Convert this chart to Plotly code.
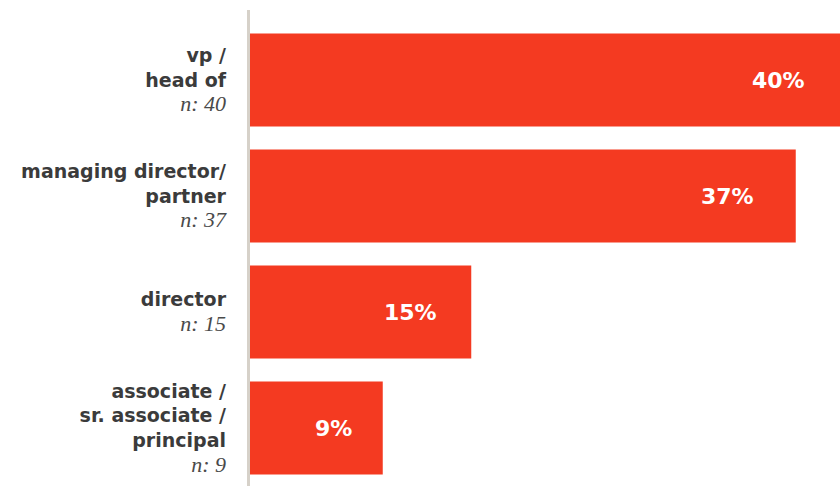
import plotly.graph_objects as go

# Seniority breakdown of respondents
roles = ["vp /<br>head of", "managing director/<br>partner", "director",
         "associate /<br>sr. associate /<br>principal"]
counts = [40, 37, 15, 9]
shares = [40, 37, 15, 9]
share_labels = [f"{v}%" for v in shares]

BAR_RED = "#F43A21"
LABEL_GREY = "#3b3b3b"
SANS = "DejaVu Sans"
SERIF = "Liberation Serif"

tick_text = [
    f"<b>{r}</b><br><span style='font-family:{SERIF};font-style:italic;"
    f"font-weight:normal;font-size:22px;color:#4a4a4a'>n: {n}</span>"
    for r, n in zip(roles, counts)
]
cats = [f"c{i}" for i in range(len(roles))]

fig = go.Figure(
    go.Bar(
        x=shares,
        y=cats,
        orientation="h",
        marker=dict(color=BAR_RED, line=dict(width=0)),
        hoverinfo="skip",
    )
)

# value labels sit inside each bar, a little in from its end
label_shift = [-62, -68, -61, -49]
for c, v, t, dx in zip(cats, shares, share_labels, label_shift):
    fig.add_annotation(
        x=v, y=c, text=f"<b>{t}</b>", showarrow=False, xanchor="center",
        xshift=dx, font=dict(family=SANS, size=22, color="white"),
    )

# vertical baseline running a little above the plot area
fig.add_shape(
    type="line", xref="paper", yref="paper",
    x0=-1.5 / 590, x1=-1.5 / 590, y0=0, y1=1.026,
    line=dict(color="#d6d1c9", width=3),
)

fig.update_layout(
    width=840, height=486,
    margin=dict(l=250, r=0, t=22, b=0),
    paper_bgcolor="white", plot_bgcolor="white",
    bargap=0.2,
    showlegend=False,
    xaxis=dict(range=[0, 40], visible=False, fixedrange=True),
    yaxis=dict(
        autorange="reversed",
        tickmode="array", tickvals=cats, ticktext=tick_text,
        showline=False, showgrid=False, zeroline=False, ticks="",
        ticklabelstandoff=23,
        tickfont=dict(family=SANS, size=19, color=LABEL_GREY),
    ),
)

fig.write_html("out.html")
